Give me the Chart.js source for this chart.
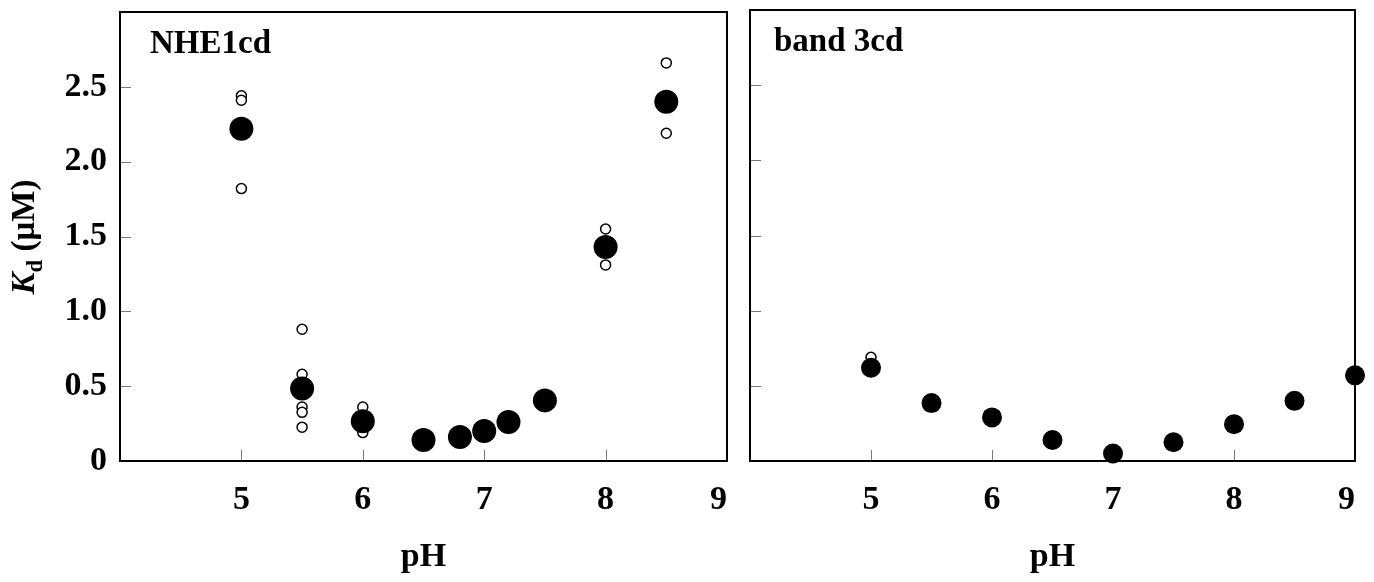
<!DOCTYPE html>
<html>
<head>
<meta charset="utf-8">
<script src="https://cdn.jsdelivr.net/npm/chart.js@4/dist/chart.umd.min.js"></script>
<style>
  body { margin: 0; background: #fff; }
  #left { position: absolute; left: 0; top: 0; }
  #right { position: absolute; left: 740px; top: 0; }
</style>
</head>
<body>
<canvas id="left" width="740" height="582"></canvas>
<canvas id="right" width="634" height="582"></canvas>
<script>
// NHE1cd: mean Kd (filled) and individual runs (open)
const phNhe = [5, 5.5, 6, 6.5, 6.8, 7, 7.2, 7.5, 8, 8.5];
const kdNhe = [2.22, 0.485, 0.265, 0.14, 0.16, 0.2, 0.26, 0.405, 1.43, 2.40];
const phNheRuns = [5, 5, 5, 5.5, 5.5, 5.5, 5.5, 5.5, 6, 6, 8, 8, 8.5, 8.5];
const kdNheRuns = [2.44, 2.41, 1.82, 0.88, 0.58, 0.36, 0.325, 0.226, 0.36, 0.19, 1.55, 1.31, 2.66, 2.19];

// band 3cd
const phBand = [5, 5.5, 6, 6.5, 7, 7.5, 8, 8.5, 9];
const kdBand = [0.62, 0.385, 0.29, 0.14, 0.05, 0.125, 0.245, 0.40, 0.57];
const phBandRuns = [5];
const kdBandRuns = [0.69];

const xTicks = [5, 6, 7, 8, 9];
const yTicks = [0, 0.5, 1.0, 1.5, 2.0, 2.5];

const serif = '"Liberation Serif", "Times New Roman", serif';

function pts(xs, ys) {
  return xs.map((x, i) => ({ x: x, y: ys[i] }));
}

// frame, inward tick marks and panel label
const framePlugin = {
  id: 'frame',
  beforeDatasetsDraw(chart) {
    const { ctx, chartArea: a, scales } = chart;
    ctx.save();
    ctx.strokeStyle = '#777';
    ctx.lineWidth = 1;
    ctx.beginPath();
    scales.x.ticks.forEach(t => {
      if (t.value > 4 && t.value < 9) {
        const x = Math.round(scales.x.getPixelForValue(t.value)) + 0.5;
        ctx.moveTo(x, a.bottom);
        ctx.lineTo(x, a.bottom - 11);
      }
    });
    scales.y.ticks.forEach(t => {
      if (t.value > 0 && t.value < 3) {
        const y = Math.round(scales.y.getPixelForValue(t.value)) + 0.5;
        ctx.moveTo(a.left, y);
        ctx.lineTo(a.left + 11, y);
      }
    });
    ctx.stroke();
    ctx.strokeStyle = '#000';
    ctx.lineWidth = 2;
    ctx.strokeRect(a.left, a.top, a.right - a.left, a.bottom - a.top);
    ctx.restore();
  },
  afterDraw(chart, args, opts) {
    const { ctx, chartArea: a } = chart;
    ctx.save();
    ctx.fillStyle = '#000';
    ctx.font = 'bold 33px ' + serif;
    ctx.textBaseline = 'alphabetic';
    ctx.fillText(opts.label, a.left + opts.labelX, a.top + 41);
    if (opts.yTitle) {
      ctx.translate(34, 237);
      ctx.rotate(-Math.PI / 2);
      const big = 'bold 33px ' + serif;
      const ital = 'italic bold 33px ' + serif;
      const small = 'bold 23px ' + serif;
      ctx.font = ital; const wK = ctx.measureText('K').width;
      ctx.font = small; const wd = ctx.measureText('d').width;
      ctx.font = big; const wu = ctx.measureText(' (\u03BCM)').width;
      let x = -(wK + wd + wu) / 2;
      ctx.font = ital; ctx.fillText('K', x, 0); x += wK;
      ctx.font = small; ctx.fillText('d', x, 8); x += wd;
      ctx.font = big; ctx.fillText(' (\u03BCM)', x, 0);
    }
    ctx.restore();
  }
};

function makeChart(id, means, runs, meanRadius, opts) {
  return new Chart(document.getElementById(id), {
    type: 'scatter',
    data: {
      datasets: [
        {
          label: 'mean',
          data: means,
          backgroundColor: '#000',
          borderWidth: 0,
          pointRadius: meanRadius,
          pointHoverRadius: meanRadius,
          clip: false
        },
        {
          label: 'runs',
          data: runs,
          backgroundColor: '#fff',
          borderColor: '#000',
          borderWidth: 1.5,
          pointRadius: 5,
          pointHoverRadius: 5,
          clip: false
        }
      ]
    },
    options: {
      responsive: false,
      animation: false,
      layout: { padding: { top: opts.padTop, right: opts.padRight, bottom: 0, left: 0 } },
      plugins: {
        legend: { display: false },
        tooltip: { enabled: false },
        frame: { label: opts.label, labelX: opts.labelX, yTitle: opts.yTitle }
      },
      scales: {
        x: {
          type: 'linear',
          min: 4,
          max: 9,
          afterBuildTicks: s => { s.ticks = [4].concat(xTicks).map(v => ({ value: v })); },
          afterFit: s => { s.height = 121; s.paddingLeft = 0; s.paddingRight = 0; },
          grid: { display: false, drawTicks: false },
          border: { display: false },
          ticks: {
            color: '#000',
            padding: 19,
            align: 'inner',
            font: { family: serif, size: 34, weight: 'bold' },
            callback: v => (v === 4 ? '' : String(v))
          },
          title: {
            display: true,
            text: 'pH',
            color: '#000',
            padding: { top: 0, bottom: 4 },
            font: { family: serif, size: 34, weight: 'bold' }
          }
        },
        y: {
          type: 'linear',
          min: 0,
          max: 3,
          afterBuildTicks: s => { s.ticks = yTicks.map(v => ({ value: v })); },
          afterFit: s => { s.width = opts.yWidth; s.paddingTop = 0; s.paddingBottom = 0; },
          grid: { display: false, drawTicks: false },
          border: { display: false },
          ticks: {
            display: opts.yLabels,
            color: '#000',
            padding: 13,
            font: { family: serif, size: 34, weight: 'bold' },
            callback: v => (v === 0 ? '0' : v.toFixed(1))
          }
        }
      }
    },
    plugins: [framePlugin]
  });
}

makeChart('left', pts(phNhe, kdNhe), pts(phNheRuns, kdNheRuns), 12,
  { label: 'NHE1cd', labelX: 30, yTitle: true, yLabels: true, yWidth: 120, padTop: 6, padRight: 13 });
makeChart('right', pts(phBand, kdBand), pts(phBandRuns, kdBandRuns), 10,
  { label: 'band 3cd', labelX: 24, yTitle: false, yLabels: false, yWidth: 9, padTop: 9, padRight: 19 });
</script>
</body>
</html>
